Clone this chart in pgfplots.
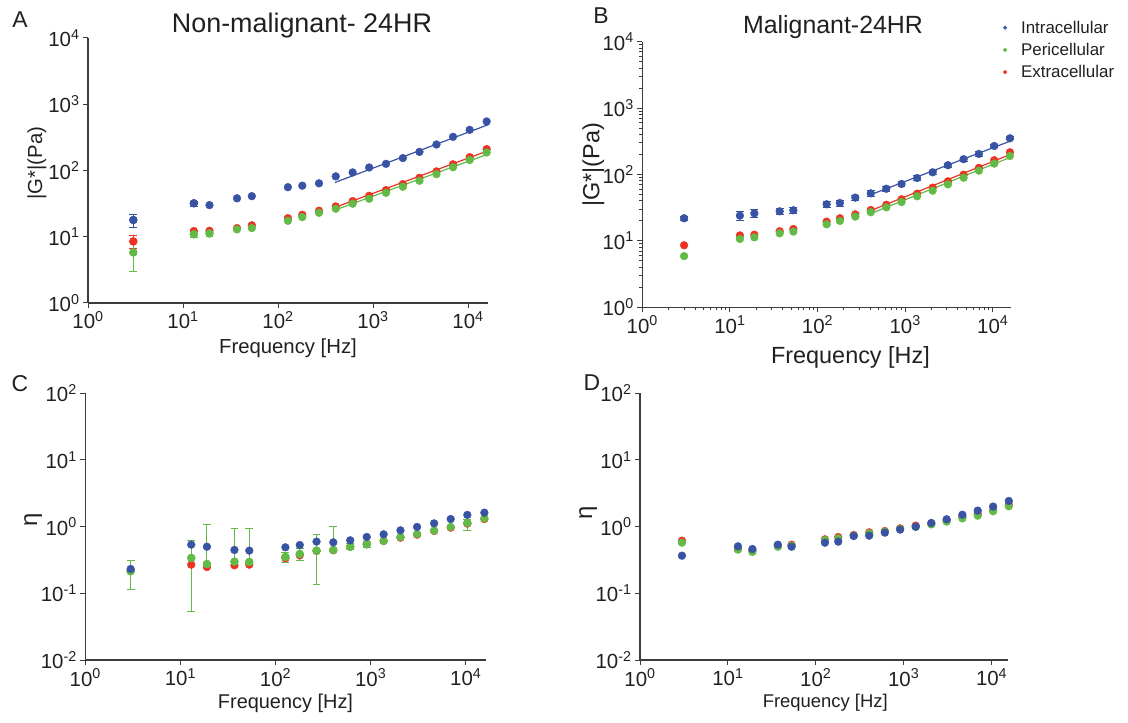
\documentclass[border=0pt]{standalone}
\usepackage{fontspec}
\setmainfont{Liberation Sans}
\usepackage{pgfplots}
\usepackage{pgfplotstable}
\pgfplotsset{compat=1.18}
\definecolor{cblue}{RGB}{57,83,164}
\definecolor{cgreen}{RGB}{98,187,70}
\definecolor{cred}{RGB}{237,50,36}
\definecolor{axgray}{RGB}{60,60,60}
\definecolor{txt}{RGB}{35,31,32}

% |G*| non-malignant
\pgfplotstableread{
f b r g
3 17.9 8.5 5.8
13 32 12.2 10.9
19 30 12.3 11.2
37 38 13.5 12.9
53 41 14.9 13.5
127 56 19.1 17.4
180 59 21.5 19.8
270 64 24.7 23
405 81.5 28.7 26.5
610 93.5 34.5 31.5
910 111 41.5 37.4
1370 126 50.6 46
2060 154 62.3 56.8
3080 191 77.6 70
4650 247 96.9 88
6950 322 124 112
10400 411 159 144
15700 550 210 187
}\tabA
% |G*| malignant
\pgfplotstableread{
f b r g
3 21.9 8.6 5.9
13 24 12.1 10.7
19 26 12.4 11.3
37 27.9 14 13
53 28.9 15.1 13.8
127 35.6 19.5 17.8
180 37.2 21.9 20
270 44.8 25.1 23.2
405 52 29.2 27
610 61 35 32
910 72 42.3 38.5
1370 88.5 51.4 47
2060 108 63.3 57
3080 138 79 71
4650 170 99.4 89.5
6950 204 126 114
10400 269 164 146
15700 351 216 190
}\tabB
% eta non-malignant
\pgfplotstableread{
f b r g
3 0.232 0.22 0.214
13 0.537 0.269 0.339
19 0.50 0.248 0.275
37 0.447 0.263 0.299
53 0.437 0.269 0.295
127 0.49 0.335 0.351
180 0.53 0.372 0.389
270 0.596 0.432 0.437
405 0.582 0.442 0.447
610 0.624 0.50 0.50
910 0.70 0.55 0.543
1370 0.767 0.61 0.61
2060 0.881 0.684 0.70
3080 0.99 0.759 0.776
4650 1.12 0.861 0.871
6950 1.30 0.966 0.99
10400 1.50 1.11 1.135
15700 1.62 1.30 1.33
}\tabC
% eta malignant
\pgfplotstableread{
f b r g
3 0.367 0.617 0.575
13 0.507 0.462 0.452
19 0.462 0.44 0.417
37 0.537 0.514 0.50
53 0.50 0.537 0.519
127 0.575 0.646 0.63
180 0.596 0.70 0.668
270 0.724 0.75 0.733
405 0.733 0.822 0.794
610 0.813 0.861 0.841
910 0.902 0.944 0.923
1370 1.0 1.035 0.99
2060 1.135 1.12 1.08
3080 1.29 1.23 1.19
4650 1.51 1.40 1.33
6950 1.74 1.55 1.46
10400 2.0 1.76 1.70
15700 2.43 2.14 2.02
}\tabD

\pgfplotsset{
 rkpanel/.style={
  scale only axis, clip=false,
  axis x line*=bottom, axis y line*=left,
  axis line style={axgray, line width=1.1pt, -},
  tick align=outside, major tick length=5bp, minor tick length=3bp,
  tick style={axgray, line width=1.0pt},
  xmin=1,
  xtick={1,10,100,1000,10000},
  xticklabels={10\textsuperscript{0},10\textsuperscript{1},10\textsuperscript{2},10\textsuperscript{3},10\textsuperscript{4}},
  ticklabel style={font=\fontsize{20.5}{20}\selectfont, text=txt},
  xminorticks=false, yminorticks=false,
 },
 rkgy/.style={ymin=1, ymax=10000, ytick={1,10,100,1000,10000},
  yticklabels={10\textsuperscript{0},10\textsuperscript{1},10\textsuperscript{2},10\textsuperscript{3},10\textsuperscript{4}}},
 rkey/.style={ymin=0.01, ymax=100, ytick={0.01,0.1,1,10,100},
  yticklabels={10\textsuperscript{-2},10\textsuperscript{-1},10\textsuperscript{0},10\textsuperscript{1},10\textsuperscript{2}}},
 rkpts/.style={only marks, mark=*, mark size=3.9bp, color=#1, mark options={draw=none, fill=#1}},
 rkeb/.style={error bars/y dir=both, error bars/y explicit,
   error bars/error bar style={line width=1.0pt},
   error bars/error mark options={rotate=90, mark size=3.9bp, line width=1.0pt}},
 rkfit/.style={no marks, line width=1.2pt, color=#1},
}

\begin{document}
\begin{tikzpicture}
\useasboundingbox (0,0) rectangle (1128bp,723bp);

% ---------- A ----------
\begin{loglogaxis}[rkpanel, rkgy, at={(88bp,420bp)}, anchor=south west,
  width=400bp, height=265bp, xmax=16218,
  xlabel={Frequency [Hz]}, ylabel={|G*|(Pa)},
  xlabel style={font=\fontsize{20.4}{20}\selectfont, text=txt, at={(axis description cs:0.5,-0.17)}, anchor=center},
  ylabel style={font=\fontsize{20.4}{20}\selectfont, text=txt, at={(axis description cs:-0.1275,0.528)}, anchor=center}]
\addplot[rkpts=cred, rkeb, forget plot] coordinates {(3,8.5) += (0,2.0) -= (0,1.8)};
\addplot[rkpts=cred, forget plot] table[x=f,y=r]{\tabA};
\addplot[rkfit=cred, forget plot] coordinates {(398,27.7) (16600,201)};
\addplot[rkpts=cgreen, rkeb, forget plot] coordinates {(3,5.8) += (0,2.8) -= (0,2.8) (13,10.9) += (0,1.2) -= (0,1.2) (19,11.2) += (0,1.0) -= (0,1.0)};
\addplot[rkpts=cgreen, forget plot] table[x=f,y=g]{\tabA};
\addplot[rkfit=cgreen, forget plot] coordinates {(398,25.3) (16600,179)};
\addplot[rkpts=cblue, rkeb, forget plot] coordinates {(3,17.9) += (0,3.9) -= (0,4.0) (13,32) += (0,2) -= (0,3)};
\addplot[rkpts=cblue, forget plot] table[x=f,y=b]{\tabA};
\addplot[rkfit=cblue, forget plot] coordinates {(398,66) (16600,496)};
\end{loglogaxis}

% ---------- B ----------
\begin{loglogaxis}[rkpanel, rkgy, at={(642.3bp,415.7bp)}, anchor=south west,
  width=368.4bp, height=265.6bp, xmax=16032,
  xminorticks=true, yminorticks=true,
  minor xtick={2,3,...,9,20,30,...,90,200,300,...,900,2000,3000,...,9000},
  minor ytick={2,3,...,9,20,30,...,90,200,300,...,900,2000,3000,...,9000},
  xlabel={Frequency [Hz]}, ylabel={|G*|(Pa)},
  xlabel style={font=\fontsize{23.5}{23}\selectfont, text=txt, at={(axis description cs:0.565,-0.19)}, anchor=center},
  ylabel style={font=\fontsize{23.5}{23}\selectfont, text=txt, at={(axis description cs:-0.133,0.536)}, anchor=center},
  legend style={draw=none, fill=none, at={(0.957,1.087)}, anchor=north west,
    font=\fontsize{17}{17}\selectfont, row sep=4.5pt, inner sep=0pt,
    nodes={inner sep=2pt, text=txt}},
  legend cell align=left,
  legend image code/.code={\path[draw=none, fill=none] (0bp,-1bp) rectangle (24bp,1bp);
    \draw[#1] plot coordinates {(10bp,0bp)};}]
\addlegendimage{only marks, mark=*, mark size=1.8bp, cblue, mark options={draw=none, fill=cblue}}
\addlegendentry{Intracellular}
\addlegendimage{only marks, mark=*, mark size=1.8bp, cgreen, mark options={draw=none, fill=cgreen}}
\addlegendentry{Pericellular}
\addlegendimage{only marks, mark=*, mark size=1.8bp, cred, mark options={draw=none, fill=cred}}
\addlegendentry{Extracellular}
\addplot[rkpts=cred, forget plot] table[x=f,y=r]{\tabB};
\addplot[rkfit=cred, forget plot] coordinates {(394,28.2) (16000,201)};
\addplot[rkpts=cgreen, forget plot] table[x=f,y=g]{\tabB};
\addplot[rkfit=cgreen, forget plot] coordinates {(394,25.4) (16000,182)};
\addplot[rkpts=cblue, rkeb, forget plot] coordinates {
 (3,21.9) +- (0,1.5) (13,24) +- (0,3.5) (19,26) +- (0,3.5) (37,27.9) +- (0,3)
 (53,28.9) +- (0,3) (127,35.6) +- (0,4) (180,37.2) +- (0,4) (270,44.8) +- (0,4)
 (405,52) +- (0,5) (610,61) +- (0,5) (910,72) +- (0,6) (1370,88.5) +- (0,7)
 (2060,108) +- (0,8) (3080,138) +- (0,10) (4650,170) +- (0,12) (6950,204) +- (0,15)
 (10400,269) +- (0,17) (15700,351) +- (0,20)};
\addplot[rkfit=cblue, forget plot] coordinates {(394,49) (16000,320)};
\end{loglogaxis}

% ---------- C ----------
\begin{loglogaxis}[rkpanel, rkey, at={(85.3bp,63bp)}, anchor=south west,
  width=400.4bp, height=266.7bp, xmax=16218,
  xlabel={Frequency [Hz]}, ylabel={η},
  xlabel style={font=\fontsize{20}{20}\selectfont, text=txt, at={(axis description cs:0.5,-0.161)}, anchor=center},
  ylabel style={font=\fontsize{24}{24}\selectfont, text=txt, at={(axis description cs:-0.13,0.525)}, anchor=center}]
\addplot[rkpts=cred, forget plot] table[x=f,y=r]{\tabC};
\addplot[rkpts=cgreen, rkeb, forget plot] coordinates {
 (3,0.214) += (0,0.095) -= (0,0.099)
 (13,0.339) += (0,0.285) -= (0,0.286)
 (19,0.275) += (0,0.785) -= (0,0)
 (37,0.299) += (0,0.645) -= (0,0)
 (53,0.295) += (0,0.638) -= (0,0)
 (127,0.351) += (0,0.056) -= (0,0.06)
 (180,0.389) += (0,0.084) -= (0,0.083)
 (270,0.437) += (0,0.313) -= (0,0.30)
 (405,0.447) += (0,0.543) -= (0,0)
 (610,0.50) += (0,0.06) -= (0,0.053)
 (910,0.543) += (0,0.053) -= (0,0.053)
 (10400,1.135) += (0,0.125) -= (0,0.255)};
\addplot[rkpts=cgreen, forget plot] table[x=f,y=g]{\tabC};
\addplot[rkpts=cblue, forget plot] table[x=f,y=b]{\tabC};
\end{loglogaxis}

% ---------- D ----------
\begin{loglogaxis}[rkpanel, rkey, at={(640bp,63bp)}, anchor=south west,
  width=368.3bp, height=266.7bp, xmax=15488,
  xlabel={Frequency [Hz]}, ylabel={η},
  xlabel style={font=\fontsize{18.5}{18}\selectfont, text=txt, at={(axis description cs:0.503,-0.161)}, anchor=center},
  ylabel style={font=\fontsize{24}{24}\selectfont, text=txt, at={(axis description cs:-0.141,0.551)}, anchor=center}]
\addplot[rkpts=cred, forget plot] table[x=f,y=r]{\tabD};
\addplot[rkpts=cgreen, forget plot] table[x=f,y=g]{\tabD};
\addplot[rkpts=cblue, forget plot] table[x=f,y=b]{\tabD};
\end{loglogaxis}

% titles and panel letters
\node[font=\fontsize{27}{27}\selectfont, text=txt] at (302bp,697bp) {Non-malignant- 24HR};
\node[font=\fontsize{25}{25}\selectfont, text=txt] at (833bp,696bp) {Malignant-24HR};
\node[font=\fontsize{23}{23}\selectfont, text=txt] at (20bp,703bp) {A};
\node[font=\fontsize{23}{23}\selectfont, text=txt] at (601bp,707bp) {B};
\node[font=\fontsize{23}{23}\selectfont, text=txt] at (20bp,339bp) {C};
\node[font=\fontsize{23}{23}\selectfont, text=txt] at (592bp,340bp) {D};
\end{tikzpicture}
\end{document}
